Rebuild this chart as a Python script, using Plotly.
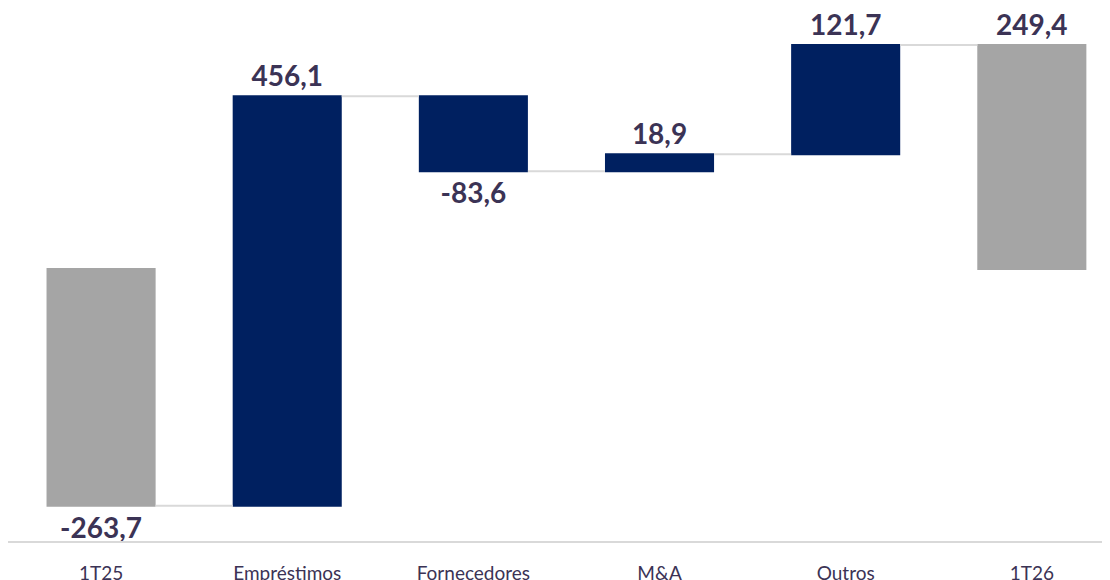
import plotly.graph_objects as go

categories = ["1T25", "Empréstimos", "Fornecedores", "M&A", "Outros", "1T26"]
values = [-263.7, 456.1, -83.6, 18.9, 121.7, 249.4]
measures = ["absolute", "relative", "relative", "relative", "relative", "total"]

NAVY = "#002060"
GREY = "#A5A5A5"
TEXT = "#3B3355"

labels = [f"{v:.1f}".replace(".", ",") for v in values]

fig = go.Figure(
    go.Waterfall(
        x=categories,
        y=values,
        measure=measures,
        text=labels,
        textposition="outside",
        textfont={"family": "Lato", "size": 28, "color": TEXT, "weight": "bold"},
        constraintext="none",
        cliponaxis=False,
        increasing={"marker": {"color": NAVY}},
        decreasing={"marker": {"color": NAVY}},
        totals={"marker": {"color": GREY}},
        connector={"mode": "between", "line": {"color": "#D9D9D9", "width": 2}},
        width=0.586,
        showlegend=False,
        hoverinfo="skip",
    )
)

# page body adds an 8px offset, so the figure is sized to the remaining area
fig.update_layout(
    width=1102,
    height=572,
    plot_bgcolor="white",
    paper_bgcolor="white",
    margin={"l": 0, "r": 0, "t": 0, "b": 39, "autoexpand": False},
    font={"family": "Lato", "color": TEXT},
    xaxis={
        "range": [-0.5, 5.42],
        "automargin": False,
        "showline": True,
        "linecolor": "#D9D9D9",
        "linewidth": 2,
        "showgrid": False,
        "ticks": "",
        "ticklabelstandoff": 14,
        "tickfont": {"family": "Lato", "size": 19, "color": TEXT},
    },
    yaxis={
        "range": [-303, 290.6],
        "automargin": False,
        "visible": False,
        "showgrid": False,
        "zeroline": False,
    },
)

fig.write_html("out.html")
